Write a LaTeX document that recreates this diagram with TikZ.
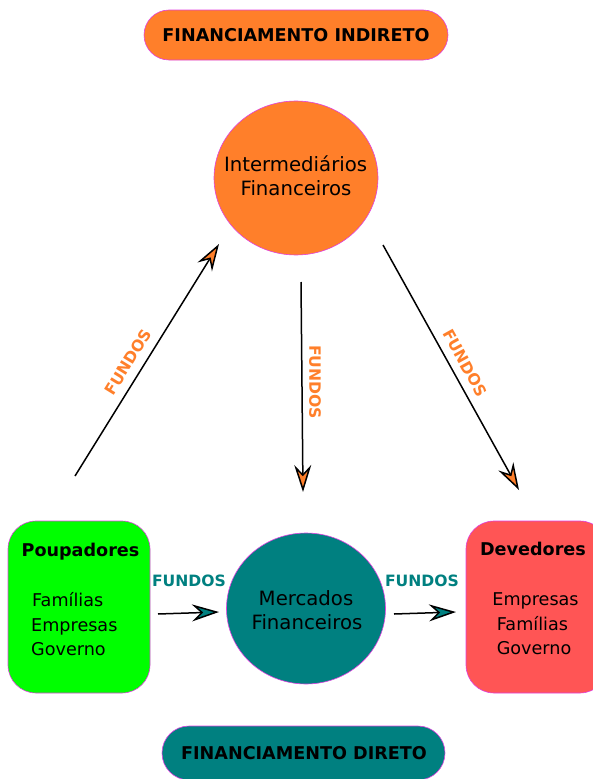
\documentclass[tikz,border=0pt]{standalone}
\usepackage{fontspec}
\setmainfont{DejaVu Sans}
\usetikzlibrary{shapes.geometric,arrows.meta}
\definecolor{orangeF}{HTML}{FF7F2A}
\definecolor{tealF}{HTML}{008080}
\definecolor{greenF}{HTML}{00FF00}
\definecolor{redF}{HTML}{FF5555}
\definecolor{edgeF}{HTML}{E040E0}
\tikzset{
  pill/.style={draw=edgeF, line width=0.6pt, rounded corners=#1},
  blob/.style={ellipse, draw=edgeF, line width=0.6pt, inner sep=0pt},
  big/.style={font=\fontsize{17.6}{25}\selectfont, inner sep=0pt, anchor=base},
  circtext/.style={font=\fontsize{19.7}{25}\selectfont, inner sep=0pt, anchor=base},
  bigbold/.style={font=\bfseries\fontsize{17.6}{25}\selectfont, inner sep=0pt, anchor=base},
  fundlabel/.style={font=\bfseries\fontsize{15.6}{18}\selectfont, inner sep=0pt},
  flow/.style={line width=1.5pt, line join=miter, -{Stealth[length=27pt,width=17pt,inset=9pt,fill=#1]}},
}
\begin{document}
\begin{tikzpicture}[x=1pt,y=-1pt]
\useasboundingbox (0,0) rectangle (593,779);
\clip (0,0) rectangle (593,779);

% pills
\filldraw[pill=25pt, fill=orangeF] (144,10) rectangle (448,60);
\node[bigbold] (tTop) at (296,41.5) {FINANCIAMENTO INDIRETO};
\filldraw[pill=27pt, fill=tealF] (162,726) rectangle (445,780);
\node[bigbold] (tBot) at (304,759.5) {FINANCIAMENTO DIRETO};

% circles
\node[blob, fill=orangeF, minimum width=164pt, minimum height=154pt] (inter) at (296,178) {};
\node[circtext] (interA) at (295.6,171) {Intermedi\'arios};
\node[circtext] (interB) at (296,195) {Financeiros};

\node[blob, fill=tealF, minimum width=159pt, minimum height=151pt] (merc) at (306,608.5) {};
\node[circtext] (mercA) at (306,605) {Mercados};
\node[circtext] (mercB) at (307,629.5) {Financeiros};

% boxes
\node[draw=edgeF, line width=0.6pt, fill=greenF, rounded corners=28pt, minimum width=142pt, minimum height=172pt, inner sep=0pt] (poup) at (79,607) {};
\node[bigbold] (poupT) at (80.5,556.7) {Poupadores};
\node[big, anchor=base west] (poup1) at (32,606.7) {Fam\'ilias};
\node[big, anchor=base west] (poup2) at (31,631.2) {Empresas};
\node[big, anchor=base west] (poup3) at (31,655.7) {Governo};

\node[draw=edgeF, line width=0.6pt, fill=redF, rounded corners=28pt, minimum width=142pt, minimum height=172pt, inner sep=0pt] (dev) at (537,607) {};
\node[bigbold] (devT) at (533,555) {Devedores};
\node[big] (dev1) at (535.5,605) {Empresas};
\node[big] (dev2) at (532.5,630) {Fam\'ilias};
\node[big] (dev3) at (534,654) {Governo};

% arrow end coordinates
\coordinate (l0) at (75,476);
\coordinate (l1) at (219,244);
\coordinate (m0) at (301,282);
\coordinate (m1) at (303,492);
\coordinate (r0) at (383,245);
\coordinate (r1) at (519,490);
\coordinate (h0) at (158,614);
\coordinate (h1) at (219,612);
\coordinate (k0) at (394,614);
\coordinate (k1) at (456,612);

\draw[flow=orangeF] (l0) -- (l1);
\draw[flow=orangeF] (m0) -- (m1);
\draw[flow=orangeF] (r0) -- (r1);
\draw[flow=tealF] (h0) -- (h1);
\draw[flow=tealF] (k0) -- (k1);

% labels
\node[fundlabel, text=orangeF, rotate=58.4] (fl) at (128,362) {FUNDOS};
\node[fundlabel, text=orangeF, rotate=-90] (fm) at (315,382) {FUNDOS};
\node[fundlabel, text=orangeF, rotate=-61] (fr) at (465,363) {FUNDOS};
\node[fundlabel, text=tealF] (fh) at (189,581) {FUNDOS};
\node[fundlabel, text=tealF] (fk) at (422,581) {FUNDOS};
\end{tikzpicture}
\end{document}
